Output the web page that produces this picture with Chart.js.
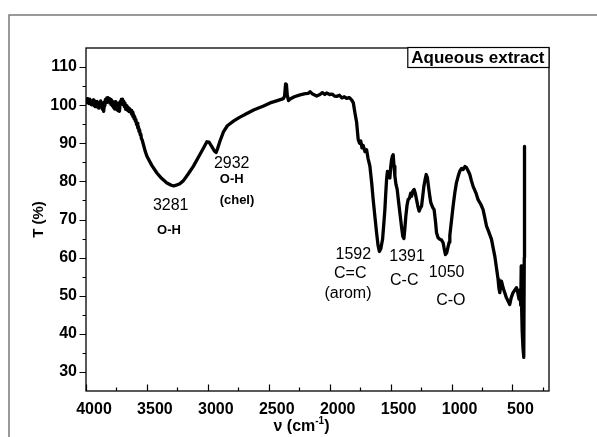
<!DOCTYPE html>
<html>
<head>
<meta charset="utf-8">
<script src="https://cdn.jsdelivr.net/npm/chart.js@4/dist/chart.umd.min.js"></script>
<style>
  html, body { margin: 0; padding: 0; background: #fff; }
  canvas { display: block; }
</style>
</head>
<body>
<canvas id="ftir" width="597" height="437"></canvas>
<script>
// FTIR transmittance spectrum of the aqueous extract
const seriesLabel = 'Aqueous extract';

const wavenumbers = [
  4000, 3995, 3990, 3985, 3980, 3975, 3970, 3965, 3960, 3955, 3950, 3945, 3940, 3935, 3930,
  3925, 3920, 3915, 3910, 3905, 3900, 3895, 3890, 3885, 3880, 3875, 3870, 3865, 3860, 3855,
  3850, 3845, 3840, 3835, 3830, 3825, 3820, 3815, 3810, 3805, 3800, 3795, 3790, 3785, 3780,
  3775, 3770, 3765, 3760, 3755, 3750, 3745, 3740, 3735, 3730, 3725, 3720, 3715, 3710, 3705,
  3700, 3695, 3690, 3685, 3680, 3675, 3670, 3665, 3660, 3655, 3650, 3645, 3640, 3635, 3630,
  3625, 3620, 3615, 3610, 3605, 3600, 3595, 3590, 3585, 3580, 3575, 3570, 3565, 3560, 3555,
  3550, 3545, 3540, 3530, 3515, 3500, 3460, 3418, 3380, 3336, 3300, 3281, 3260, 3230, 3200,
  3160, 3118, 3080, 3040, 3008, 2990, 2965, 2945, 2932, 2920, 2900, 2872, 2840, 2790, 2740,
  2680, 2620, 2543, 2489, 2430, 2380, 2370, 2362, 2355, 2348, 2338, 2325, 2290, 2243, 2200,
  2175, 2161, 2140, 2107, 2080, 2060, 2040, 2025, 2000, 1980, 1960, 1943, 1920, 1900, 1880,
  1861, 1840, 1820, 1806, 1793, 1779, 1766, 1755, 1745, 1735, 1725, 1710, 1697, 1685, 1670,
  1655, 1643, 1628, 1615, 1603, 1592, 1580, 1566, 1556, 1547, 1540, 1533, 1526, 1520, 1513,
  1506, 1499, 1492, 1485, 1479, 1472, 1465, 1456, 1446, 1435, 1424, 1410, 1400, 1391, 1383,
  1375, 1365, 1356, 1345, 1335, 1328, 1318, 1307, 1297, 1287, 1276, 1266, 1256, 1246, 1236,
  1227, 1216, 1208, 1198, 1186, 1178, 1170, 1155, 1143, 1132, 1123, 1110, 1096, 1082, 1069,
  1058, 1050, 1040, 1030, 1020, 1014, 1000, 987, 973, 960, 945, 932, 918, 905, 890,
  877, 864, 850, 837, 823, 800, 782, 760, 741, 727, 713, 695, 672, 658, 645,
  632, 618, 611, 604, 597, 590, 576, 563, 550, 536, 522, 510, 495, 480, 467,
  456, 446, 438, 432, 428, 424, 420, 414, 407, 403, 401
];

const transmittance = [
  101.5, 100.6, 101.7, 100.9, 101.4, 100.4, 101.6, 100.7, 101.2, 100.1, 101.0, 100.3, 101.4, 99.9, 100.8,
  99.6, 100.9, 99.8, 101.0, 99.5, 100.6, 99.2, 100.7, 99.9, 101.1, 99.4, 100.5, 98.9, 100.6, 98.4,
  99.9, 100.9, 101.5, 100.7, 101.9, 101.0, 102.0, 100.9, 101.7, 100.6, 101.5, 100.2, 101.3, 99.8, 100.9,
  99.4, 100.6, 99.0, 100.9, 99.3, 100.4, 98.7, 100.2, 98.5, 100.6, 98.4, 100.9, 100.2, 101.5, 100.4,
  101.6, 100.1, 101.0, 99.6, 100.5, 98.9, 99.9, 98.8, 99.6, 98.5, 99.3, 98.3, 99.0, 98.2, 98.6,
  97.6, 98.2, 97.0, 97.6, 96.4, 97.0, 95.8, 96.2, 94.9, 95.3, 94.0, 94.4, 93.1, 93.5, 92.2,
  92.4, 91.2, 91.0, 89.8, 88.0, 86.6, 84.2, 82.2, 80.8, 79.6, 79.0, 78.8, 79.0, 79.4, 80.2,
  82.0, 84.0, 86.2, 88.5, 90.4, 90.3, 89.0, 87.9, 87.6, 88.6, 90.6, 93.0, 94.6, 95.8, 96.8,
  97.8, 98.8, 99.8, 100.6, 101.2, 101.7, 102.4, 105.6, 105.4, 102.6, 101.2, 101.6, 102.2, 102.7, 103.0,
  103.1, 103.5, 102.9, 102.4, 102.8, 103.3, 102.8, 103.2, 102.8, 102.9, 102.4, 102.3, 102.6, 101.9, 102.2,
  101.8, 102.0, 101.4, 100.6, 98.0, 95.5, 91.0, 90.0, 90.6, 88.8, 89.4, 87.8, 88.3, 86.0, 84.0,
  79.5, 75.2, 70.5, 66.5, 63.2, 61.6, 62.4, 64.8, 68.8, 72.6, 76.8, 80.5, 82.6, 82.2, 81.0,
  80.9, 83.8, 85.7, 86.6, 87.0, 84.0, 81.4, 79.2, 77.9, 74.8, 71.8, 68.0, 65.6, 65.0, 67.6,
  70.9, 73.8, 75.2, 75.6, 76.9, 76.1, 77.4, 77.9, 76.8, 75.2, 73.4, 72.2, 73.0, 73.5, 76.2,
  78.7, 80.6, 81.8, 81.0, 77.9, 76.0, 74.4, 73.2, 72.6, 69.6, 66.5, 65.2, 64.8, 64.6, 63.9,
  62.0, 60.8, 61.2, 62.6, 64.0, 65.8, 69.8, 73.5, 77.0, 79.6, 81.4, 82.7, 83.4, 83.1, 83.9,
  83.6, 82.8, 81.8, 80.2, 78.7, 77.0, 75.2, 74.0, 72.6, 70.5, 68.3, 66.8, 64.8, 62.5, 60.4,
  57.5, 54.3, 52.0, 50.8, 52.4, 53.8, 52.0, 50.8, 49.5, 48.6, 47.7, 49.5, 50.8, 51.5, 52.1,
  50.8, 49.1, 51.5, 47.5, 57.8, 46.0, 40.7, 36.5, 33.8, 60.0, 89.2
];

// Axis ticks
const xMajorTicks = [4000, 3500, 3000, 2500, 2000, 1500, 1000, 500];
const xMinorTicks = [3750, 3250, 2750, 2250, 1750, 1250, 750, 250];
const yMajorTicks = [30, 40, 50, 60, 70, 80, 90, 100, 110];
const yMinorTicks = [35, 45, 55, 65, 75, 85, 95, 105];

// Band assignments: [text, wavenumber position, %T position, bold]
const bandLabels = [
  ['3281', 3305, 73.6, false],
  ['O-H', 3319, 67.2, true],
  ['2932', 2804, 84.6, false],
  ['O-H', 2804, 80.5, true],
  ['(chel)', 2761, 75.1, true],
  ['1592', 1806, 60.7, false],
  ['C=C', 1831, 55.9, false],
  ['(arom)', 1850, 50.5, false],
  ['1391', 1365, 60.2, false],
  ['C-C', 1388, 53.9, false],
  ['1050', 1040, 56.1, false],
  ['C-O', 1006, 48.7, false]
];

const FONT = "'Liberation Sans', Arial, Helvetica, sans-serif";

const framePlugin = {
  id: 'frame',
  beforeDraw(chart) {
    const ctx = chart.ctx;
    ctx.save();
    ctx.fillStyle = '#fff';
    ctx.fillRect(0, 0, chart.width, chart.height);
    // outer page border
    ctx.strokeStyle = '#7a7a7a';
    ctx.lineWidth = 1.5;
    ctx.strokeRect(9, 15, chart.width + 20, chart.height + 20);
    ctx.restore();
  },
  afterDatasetsDraw(chart) {
    const { ctx, chartArea: a, scales: { x, y } } = chart;
    ctx.save();
    ctx.strokeStyle = '#000';
    ctx.lineWidth = 1.3;
    ctx.strokeRect(a.left, a.top, a.right - a.left, a.bottom - a.top);

    // x ticks point into the plot, y ticks point outward
    ctx.lineWidth = 1.2;
    ctx.beginPath();
    xMajorTicks.forEach(v => { const p = Math.round(x.getPixelForValue(v)) + 0.5; ctx.moveTo(p, a.bottom); ctx.lineTo(p, a.bottom - 6.5); });
    xMinorTicks.forEach(v => { const p = Math.round(x.getPixelForValue(v)) + 0.5; ctx.moveTo(p, a.bottom); ctx.lineTo(p, a.bottom - 3.5); });
    yMajorTicks.forEach(v => { const p = Math.round(y.getPixelForValue(v)) + 0.5; ctx.moveTo(a.left, p); ctx.lineTo(a.left - 6.5, p); });
    yMinorTicks.forEach(v => { const p = Math.round(y.getPixelForValue(v)) + 0.5; ctx.moveTo(a.left, p); ctx.lineTo(a.left - 3.5, p); });
    ctx.stroke();

    // band assignment labels
    ctx.fillStyle = '#000';
    ctx.textAlign = 'center';
    ctx.textBaseline = 'middle';
    bandLabels.forEach(([t, v, T, bold]) => {
      ctx.font = bold ? `bold 13px ${FONT}` : `16px ${FONT}`;
      ctx.fillText(t, x.getPixelForValue(v), y.getPixelForValue(T));
    });

    // series label box in the top right corner
    const label = chart.data.datasets[0].label;
    ctx.font = `bold 17px ${FONT}`;
    const w = ctx.measureText(label).width + 8;
    const bx = a.right - w, by = a.top - 0.5, bh = 20;
    ctx.fillStyle = '#fff';
    ctx.fillRect(bx, by, w, bh);
    ctx.lineWidth = 1.2;
    ctx.strokeRect(bx, by, w, bh);
    ctx.fillStyle = '#000';
    ctx.textAlign = 'left';
    ctx.textBaseline = 'alphabetic';
    ctx.fillText(label, bx + 3.5, by + 15.5);

    // x axis title with superscript
    const cx = (a.left + a.right) / 2 - 16;
    const base = 431;
    ctx.font = `bold 16px ${FONT}`;
    const main = 'ν (cm';
    const sup = '-1';
    const close = ')';
    const wMain = ctx.measureText(main).width;
    const wClose = ctx.measureText(close).width;
    ctx.font = `bold 10px ${FONT}`;
    const wSup = ctx.measureText(sup).width;
    let sx = cx - (wMain + wSup + wClose) / 2;
    ctx.font = `bold 16px ${FONT}`;
    ctx.fillText(main, sx, base);
    sx += wMain;
    ctx.font = `bold 10px ${FONT}`;
    ctx.fillText(sup, sx, base - 7);
    sx += wSup;
    ctx.font = `bold 16px ${FONT}`;
    ctx.fillText(close, sx, base);
    ctx.restore();
  }
};

new Chart(document.getElementById('ftir'), {
  type: 'line',
  data: {
    datasets: [{
      label: seriesLabel,
      data: wavenumbers.map((v, i) => ({ x: v, y: transmittance[i] })),
      borderColor: '#000',
      borderWidth: 3.3,
      pointRadius: 0,
      tension: 0,
      fill: false,
      borderJoinStyle: 'round',
      borderCapStyle: 'round'
    }]
  },
  options: {
    responsive: false,
    animation: false,
    devicePixelRatio: 1,
    layout: { padding: { left: 0, top: 48, right: 48, bottom: 0 } },
    plugins: { legend: { display: false }, tooltip: { enabled: false } },
    scales: {
      x: {
        type: 'linear',
        reverse: true,
        min: 200,
        max: 4000,
        afterBuildTicks: s => { s.ticks = xMajorTicks.map(v => ({ value: v })); },
        afterFit: s => { s.height = 46; },
        grid: { display: false, drawTicks: false },
        border: { display: false },
        ticks: {
          color: '#000',
          font: { family: FONT, size: 16, weight: 'bold' },
          padding: 9,
          labelOffset: 8,
          maxRotation: 0,
          autoSkip: false,
          callback: v => String(v)
        }
      },
      y: {
        min: 25,
        max: 115,
        afterBuildTicks: s => { s.ticks = yMajorTicks.map(v => ({ value: v })); },
        afterFit: s => { s.width = 86; },
        grid: { display: false, drawTicks: false },
        border: { display: false },
        ticks: {
          color: '#000',
          font: { family: FONT, size: 16, weight: 'bold' },
          padding: 9,
          autoSkip: false,
          callback: v => String(v)
        },
        title: {
          display: true,
          text: 'T (%)',
          color: '#000',
          font: { family: FONT, size: 15, weight: 'bold' },
          padding: { top: 30, bottom: 0 }
        }
      }
    }
  },
  plugins: [framePlugin]
});
</script>
</body>
</html>
